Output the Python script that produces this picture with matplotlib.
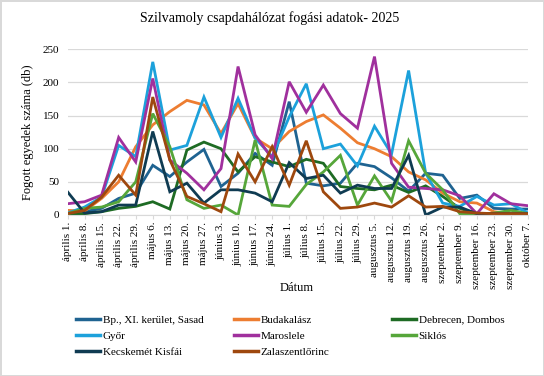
import matplotlib
matplotlib.use("Agg")
import matplotlib.pyplot as plt

plt.rcParams['font.family'] = ['Liberation Serif', 'DejaVu Serif']

dates = ["április 1.", "április 8.", "április 15.", "április 22.", "április 29.",
         "május 6.", "május 13.", "május 20.", "május 27.", "június 3.",
         "június 10.", "június 17.", "június 24.", "július 1.", "július 8.",
         "július 15.", "július 22.", "július 29.", "augusztus 5.", "augusztus 12.",
         "augusztus 19.", "augusztus 26.", "szeptember 2.", "szeptember 9.",
         "szeptember 16.", "szeptember 23.", "szeptember 30.", "október 7."]

sasad = [2, 5, 10, 25, 33, 75, 58, 80, 99, 43, 63, 93, 75, 171, 48, 44, 48, 78, 73, 56, 36, 63, 60, 25, 30, 10, 9, 9]
budakalasz = [7, 6, 25, 50, 103, 136, 156, 173, 166, 123, 168, 116, 100, 126, 141, 151, 131, 109, 100, 88, 65, 53, 33, 20, 18, 5, 2, 2]
debrecen = [1, 2, 5, 10, 13, 20, 9, 98, 110, 100, 65, 88, 80, 73, 84, 78, 43, 40, 38, 45, 34, 44, 28, 10, 2, 1, 1, 1]
gyor = [3, 12, 27, 105, 88, 231, 98, 105, 178, 117, 176, 116, 88, 148, 198, 100, 107, 74, 134, 92, 218, 63, 18, 13, 28, 15, 17, 3]
maroslele = [17, 20, 30, 117, 80, 206, 83, 63, 38, 70, 224, 121, 85, 201, 155, 196, 153, 131, 239, 78, 42, 40, 38, 29, 2, 32, 17, 14]
siklos = [2, 10, 12, 20, 50, 153, 103, 23, 10, 15, 0, 113, 15, 13, 46, 65, 90, 15, 59, 21, 112, 63, 38, 2, 0, 3, 7, 2]
kecskemet = [35, 3, 5, 15, 15, 126, 35, 48, 18, 38, 38, 33, 20, 79, 55, 60, 33, 45, 40, 40, 90, 0, 12, 12, 2, 2, 2, 2]
zalaszentlorinc = [2, 7, 27, 60, 30, 178, 83, 28, 17, 5, 92, 50, 103, 45, 112, 35, 10, 12, 18, 12, 29, 12, 13, 5, 3, 2, 2, 2]

names = ["Bp., XI. kerület, Sasad", "Budakalász", "Debrecen, Dombos", "Győr",
         "Maroslele", "Siklós", "Kecskemét Kisfái", "Zalaszentlőrinc"]
series = [sasad, budakalasz, debrecen, gyor, maroslele, siklos, kecskemet, zalaszentlorinc]
colors = ["#1F6391", "#ED7D31", "#1E6B24", "#1CA1DB", "#A0309D", "#56A63A", "#0F3B52", "#9E480E"]

fig = plt.figure(figsize=(5.44, 3.76), dpi=100)
fig.patch.set_edgecolor("#D9D9D9")
fig.patch.set_linewidth(1.0)
ax = fig.add_axes([67.5/544, 1-215/376, (528-67.5)/544, (215-49.3)/376])

x = list(range(len(dates)))
lines = []
for s, c, n in zip(series, colors, names):
    ln, = ax.plot(x, s, color=c, lw=2.0, label=n, solid_joinstyle='miter')
    lines.append(ln)

ax.set_xlim(0, len(dates)-1)
ax.set_ylim(0, 250)
ax.set_yticks(range(0, 251, 50))
ax.yaxis.grid(True, color="#D9D9D9", lw=0.9)
ax.set_axisbelow(True)
for sp in ["top", "right", "left"]:
    ax.spines[sp].set_visible(False)
ax.spines["bottom"].set_color("#D9D9D9")
ax.tick_params(axis='y', length=0, labelsize=8, pad=6)
ax.tick_params(axis='x', length=3, color="#D9D9D9", labelsize=8, pad=2)
ax.set_xticks(x)
ax.set_xticklabels(dates, rotation=90, va='top', ha='center')

ax.set_ylabel("Fogott egyedek száma (db)", fontsize=9, labelpad=6)
fig.text(297/544, 1-288/376, "Dátum", ha='center', va='center', fontsize=9)
fig.text(270/544, 1-18/376, "Szilvamoly csapdahálózat fogási adatok- 2025",
         ha='center', va='center', fontsize=10)

cols = [[0, 3, 6], [1, 4, 7], [2, 5]]
xs = [76, 234, 392]
for cidx, xpos in zip(cols, xs):
    leg = fig.legend([lines[i] for i in cidx], [names[i] for i in cidx],
                     loc='upper left', bbox_to_anchor=(xpos/544, 1-315/376),
                     frameon=False, fontsize=8, handlelength=2.2,
                     handletextpad=0.2, labelspacing=0.55, borderpad=0,
                     borderaxespad=0)
    for h in leg.legend_handles:
        h.set_linewidth(2.5)

fig.savefig("out.png", dpi=100, edgecolor=fig.get_edgecolor())
